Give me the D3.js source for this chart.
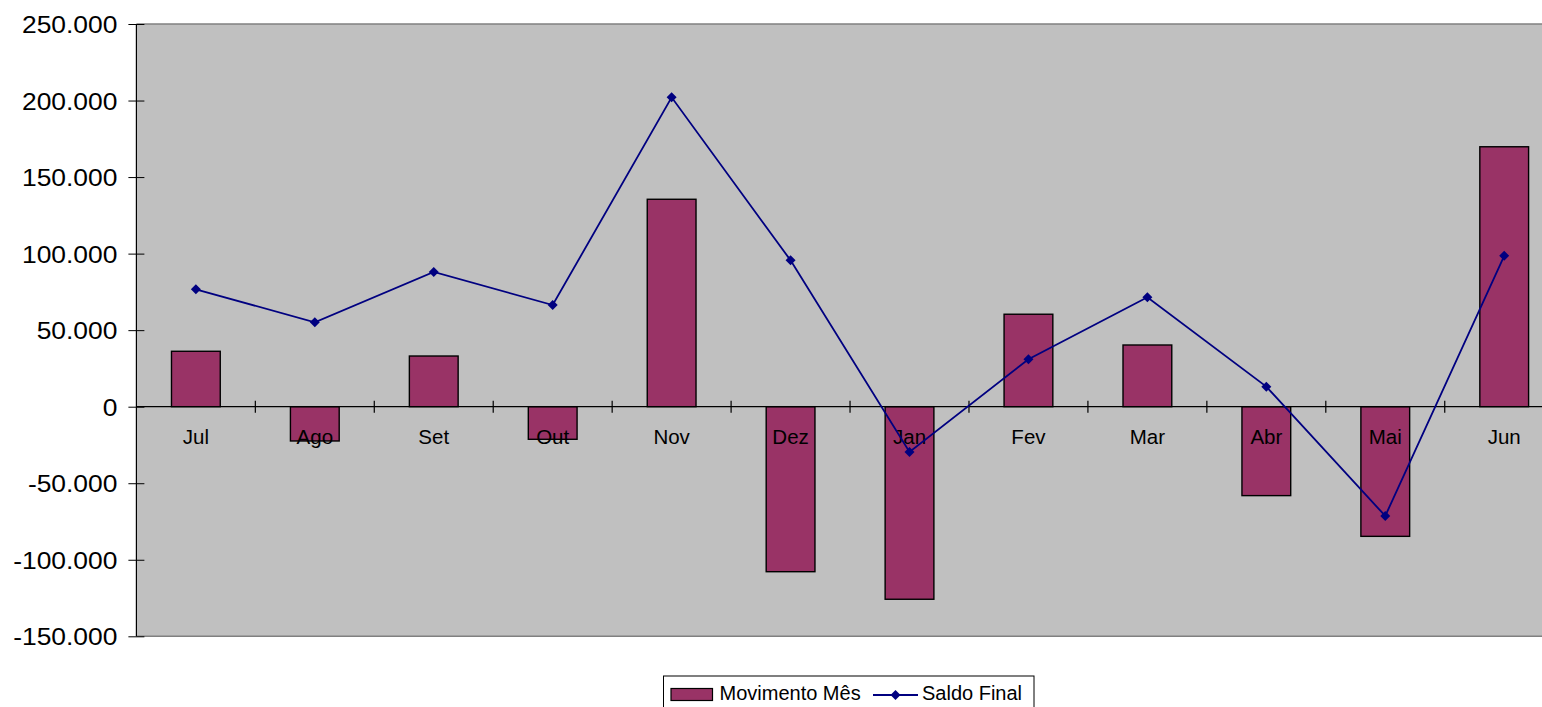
<!DOCTYPE html>
<meta charset="utf-8">

<style type="text/css">
  body {
    margin: 0;
    background: #fff;
    font-family: "Liberation Sans", Arial, sans-serif;
  }

  .axis path {
    display: none;
  }

  .axis line {
    stroke: #000;
  }

  .axis text {
    fill: #000;
    font-family: "Liberation Sans", Arial, sans-serif;
  }
</style>

<body>
</body>

<script src="https://d3js.org/d3.v7.min.js"></script>
<script>
  // months of the fiscal year
  var months = ["Jul", "Ago", "Set", "Out", "Nov", "Dez", "Jan", "Fev", "Mar", "Abr", "Mai", "Jun"];

  // monthly movement (bars)
  var movimento = [36200, -22400, 33100, -21300, 135500, -107800, -125800, 60400, 40300, -58100, -84700, 169800];

  // closing balance (line)
  var saldo = [76700, 55100, 88000, 66400, 202100, 95600, -29600, 31000, 71500, 13100, -71400, 98600];

  var yTicks = [-150000, -100000, -50000, 0, 50000, 100000, 150000, 200000, 250000];

  var seriesNames = ["Movimento Mês", "Saldo Final"];

  var W = 1542,
    H = 707,
    plot = {
      left: 136.4,
      top: 24,
      bottom: 636.3,
      band: 118.94
    };
  plot.right = plot.left + plot.band * months.length;

  var barColor = "#993366",
    lineColor = "#000080";

  var ptBR = d3.formatLocale({
    decimal: ",",
    thousands: ".",
    grouping: [3],
    currency: ["R$", ""],
    minus: "-"
  });
  var fmt = ptBR.format(",d");

  var x = d3.scaleBand()
    .domain(months)
    .range([plot.left, plot.right])
    .padding(0);

  var y = d3.scaleLinear()
    .domain([-150000, 250000])
    .range([plot.bottom, plot.top]);

  var barW = x.bandwidth() * 0.41;

  var svg = d3.select("body").append("svg")
    .attr("width", W)
    .attr("height", H);

  // plot area
  svg.append("rect")
    .attr("x", plot.left)
    .attr("y", plot.top)
    .attr("width", plot.right - plot.left)
    .attr("height", plot.bottom - plot.top)
    .style("fill", "#C0C0C0");

  svg.append("line")
    .attr("x1", plot.left).attr("x2", plot.right)
    .attr("y1", plot.top).attr("y2", plot.top)
    .style("stroke", "#808080").style("stroke-width", 1.5);

  svg.append("line")
    .attr("x1", plot.left).attr("x2", plot.right)
    .attr("y1", plot.bottom).attr("y2", plot.bottom)
    .style("stroke", "#808080").style("stroke-width", 1.5);

  // bars
  svg.append("g").selectAll("rect")
    .data(months)
    .enter().append("rect")
    .attr("x", function(d) {
      return x(d) + (x.bandwidth() - barW) / 2;
    })
    .attr("y", function(d, i) {
      return y(Math.max(0, movimento[i]));
    })
    .attr("width", barW)
    .attr("height", function(d, i) {
      return Math.abs(y(movimento[i]) - y(0));
    })
    .style("fill", barColor)
    .style("stroke", "#000")
    .style("stroke-width", 1.4);

  // y axis
  var yAxis = d3.axisLeft(y)
    .tickValues(yTicks)
    .tickFormat(fmt)
    .tickSize(8);

  var gy = svg.append("g")
    .attr("class", "axis")
    .attr("transform", "translate(" + plot.left + ",0)")
    .call(yAxis);

  gy.selectAll(".tick line")
    .attr("x1", 8)
    .attr("x2", -8);

  gy.selectAll(".tick text")
    .attr("x", -19 / 1.1)
    .attr("dy", "0.36em")
    .attr("transform", "scale(1.1,1)")
    .style("font-size", "24px")
    .style("text-anchor", "end");

  svg.append("line")
    .attr("x1", plot.left).attr("x2", plot.left)
    .attr("y1", plot.top).attr("y2", plot.bottom)
    .style("stroke", "#000").style("stroke-width", 1.2);

  // zero line with category labels
  var xAxis = d3.axisBottom(x).tickSize(0);

  var gx = svg.append("g")
    .attr("class", "axis")
    .attr("transform", "translate(0," + y(0) + ")")
    .call(xAxis);

  gx.selectAll(".tick text")
    .attr("y", 37.5)
    .attr("dy", 0)
    .style("font-size", "20.5px");

  svg.append("line")
    .attr("x1", plot.left).attr("x2", plot.right)
    .attr("y1", y(0)).attr("y2", y(0))
    .style("stroke", "#000").style("stroke-width", 1.2);

  // category boundary ticks
  svg.append("g").selectAll("line")
    .data(months.slice(1))
    .enter().append("line")
    .attr("x1", function(d) {
      return x(d);
    })
    .attr("x2", function(d) {
      return x(d);
    })
    .attr("y1", y(0) - 6)
    .attr("y2", y(0) + 6)
    .style("stroke", "#000")
    .style("stroke-width", 1.2);

  // saldo line
  var line = d3.line()
    .x(function(d, i) {
      return x(months[i]) + x.bandwidth() / 2;
    })
    .y(function(d) {
      return y(d);
    });

  svg.append("path")
    .datum(saldo)
    .attr("d", line)
    .style("fill", "none")
    .style("stroke", lineColor)
    .style("stroke-width", 1.8);

  var diamond = d3.symbol().type(d3.symbolSquare).size(50);

  svg.append("g").selectAll("path")
    .data(saldo)
    .enter().append("path")
    .attr("d", diamond)
    .attr("transform", function(d, i) {
      return "translate(" + (x(months[i]) + x.bandwidth() / 2) + "," + y(d) + ") rotate(45)";
    })
    .style("fill", lineColor);

  // legend
  var legend = svg.append("g");

  legend.append("rect")
    .attr("x", 663.5)
    .attr("y", 676)
    .attr("width", 370.5)
    .attr("height", 40)
    .style("fill", "#fff")
    .style("stroke", "#000")
    .style("stroke-width", 1);

  legend.append("rect")
    .attr("x", 671)
    .attr("y", 688.5)
    .attr("width", 41.5)
    .attr("height", 12)
    .style("fill", barColor)
    .style("stroke", "#000")
    .style("stroke-width", 1.2);

  legend.append("text")
    .attr("x", 719.5)
    .attr("y", 700)
    .style("font-size", "20px")
    .text(seriesNames[0]);

  legend.append("line")
    .attr("x1", 873).attr("x2", 918)
    .attr("y1", 695).attr("y2", 695)
    .style("stroke", lineColor)
    .style("stroke-width", 1.8);

  legend.append("path")
    .attr("d", diamond)
    .attr("transform", "translate(895.5,695) rotate(45)")
    .style("fill", lineColor);

  legend.append("text")
    .attr("x", 922)
    .attr("y", 700)
    .style("font-size", "20px")
    .text(seriesNames[1]);
</script>
